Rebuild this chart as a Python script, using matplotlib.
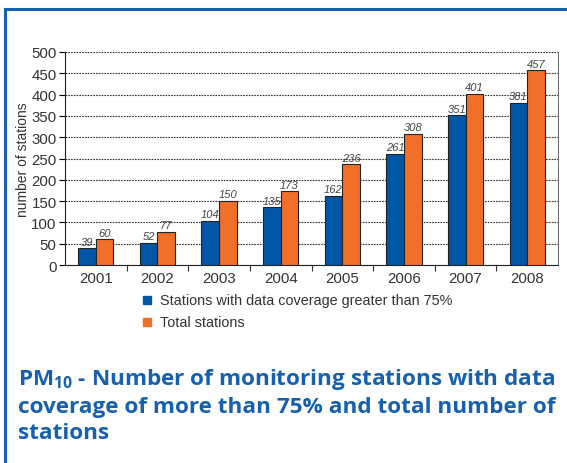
import numpy as np
import matplotlib.pyplot as plt
from matplotlib.ticker import FixedLocator

plt.rcParams['font.family'] = ['Liberation Sans', 'DejaVu Sans']

years = ['2001', '2002', '2003', '2004', '2005', '2006', '2007', '2008']
over_75 = [39, 52, 104, 135, 162, 261, 351, 381]
total = [60, 77, 150, 173, 236, 308, 401, 457]

blue = '#0057a8'
orange = '#f26f2a'
frame_blue = '#1560b0'
text_gray = '#333333'

fig = plt.figure(figsize=(5.67, 4.64), dpi=100)

# blue frame along the top and left edge
fig.add_artist(plt.Line2D([5 / 567, 1], [1 - 10 / 464, 1 - 10 / 464],
                          color=frame_blue, lw=2.2, transform=fig.transFigure))
fig.add_artist(plt.Line2D([5 / 567, 5 / 567], [0, 1 - 10 / 464],
                          color=frame_blue, lw=2.2, transform=fig.transFigure))

ax = fig.add_axes([65 / 567, 1 - 266 / 464, (558 - 65) / 567, (266 - 53) / 464])

x = np.arange(len(years))
w = 0.285
b1 = ax.bar(x - w / 2, over_75, w, color=blue, edgecolor='#222222', linewidth=0.8, zorder=3)
b2 = ax.bar(x + w / 2, total, w, color=orange, edgecolor='#222222', linewidth=0.8, zorder=3)

for bars, vals in ((b1, over_75), (b2, total)):
    for rect, v in zip(bars, vals):
        ax.text(rect.get_x() + rect.get_width() / 2, v + 4, str(v), ha='center', va='bottom',
                fontsize=8, style='italic', color='#444444', zorder=4)

ax.set_xlim(-0.5, len(years) - 0.5)
ax.set_ylim(0, 500)
ax.set_yticks(range(0, 501, 50))
ax.set_xticks(x)
ax.set_xticklabels(years)
ax.xaxis.set_minor_locator(FixedLocator(np.arange(0.5, len(years) - 1, 1)))
ax.tick_params(axis='x', which='major', length=0, labelsize=10.8, pad=4)
ax.tick_params(axis='x', which='minor', length=4, width=0.8, direction='out', color='#333333')
ax.tick_params(axis='y', length=4, width=0.8, labelsize=10.8, pad=2)
for lbl in ax.get_yticklabels() + ax.get_xticklabels():
    lbl.set_color(text_gray)

ax.grid(axis='y', linestyle=(0, (1.5, 1.0)), color='#333333', linewidth=0.8, zorder=0)
ax.spines['top'].set_visible(False)
ax.spines['left'].set_color('#222222')
ax.spines['bottom'].set_color('#222222')
ax.spines['right'].set_color('#555555')
ax.spines['right'].set_linewidth(0.6)

ax.set_ylabel('number of stations', fontsize=10, color=text_gray, labelpad=1)

# legend drawn under the axes
fig.patches.append(plt.Rectangle((143 / 567, 1 - 305 / 464), 8 / 567, 8 / 464,
                                 color=blue, transform=fig.transFigure))
fig.patches.append(plt.Rectangle((143 / 567, 1 - 327 / 464), 8 / 567, 8 / 464,
                                 color=orange, transform=fig.transFigure))
fig.text(160 / 567, 1 - 301 / 464, 'Stations with data coverage greater than 75%',
         fontsize=10.4, color=text_gray, va='center')
fig.text(160 / 567, 1 - 323 / 464, 'Total stations',
         fontsize=10.4, color=text_gray, va='center')

title = ('PM$_{\\mathregular{10}}$ - Number of monitoring stations with data\n'
         'coverage of more than 75% and total number of\n'
         'stations')
fig.text(18 / 567, 1 - 367 / 464, title, fontsize=16.2, fontweight='bold',
         color=frame_blue, family=['Open Sans', 'DejaVu Sans'], va='top',
         linespacing=1.3)

fig.savefig('out.png', dpi=100)
